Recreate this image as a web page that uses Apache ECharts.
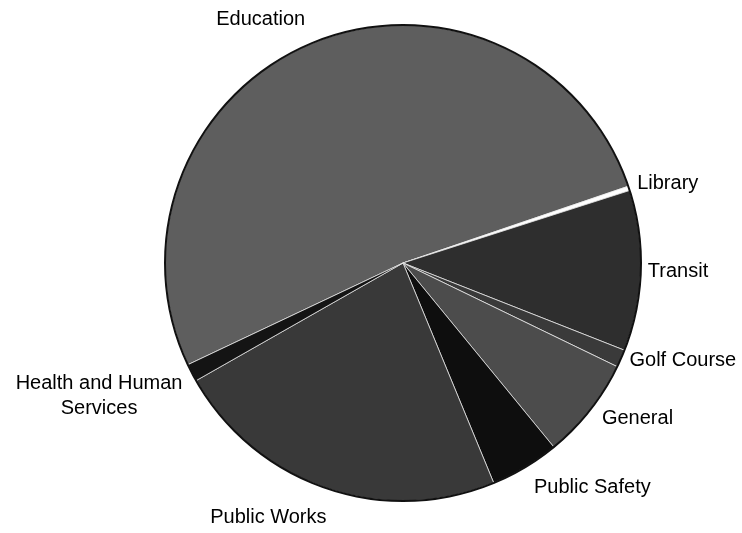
<!DOCTYPE html>
<html>
<head>
<meta charset="utf-8">
<script src="https://cdn.jsdelivr.net/npm/echarts@6/dist/echarts.min.js"></script>
<style>
  html, body { margin: 0; padding: 0; background: #fff; }
  #chart { width: 742px; height: 533px; }
</style>
</head>
<body>
<div id="chart"></div>
<script>
// Budget share by department (percent of total)
const categories = ['Education', 'Library', 'Transit', 'Golf Course', 'General',
                    'Public Safety', 'Public Works', 'Health and Human Services'];
const shares = [51.8, 0.3, 10.9, 1.2, 6.9, 4.7, 23.0, 1.2];

// Fill tone per department
const fills = ['#5e5e5e', '#ffffff', '#2e2e2e', '#3a3a3a', '#4c4c4c',
               '#0e0e0e', '#393939', '#141414'];

// Label placement: radial offset and horizontal nudge per slice
const labelLen = [25, 16, 22, 6, 14, 23, 31, 50];
const labelLen2 = [-6, -12, -20, -2, -4, -8, -16, -40];

const data = categories.map((name, i) => ({
  name: name,
  value: shares[i],
  itemStyle: { color: fills[i] },
  labelLine: { length: labelLen[i], length2: labelLen2[i] }
}));

const chart = echarts.init(document.getElementById('chart'), null, { renderer: 'canvas' });

const labelFont = '"Liberation Sans", Arial, sans-serif';

chart.setOption({
  backgroundColor: '#ffffff',
  animation: false,
  series: [
    {
      type: 'pie',
      center: [403, 263],
      radius: 238,
      startAngle: 205.3,
      clockwise: true,
      avoidLabelOverlap: false,
      data: data,
      itemStyle: { borderColor: 'rgba(235,235,235,0.75)', borderWidth: 1 },
      label: {
        show: true,
        position: 'outside',
        bleedMargin: 0,
        distanceToLabelLine: 5,
        color: '#000',
        fontFamily: labelFont,
        fontSize: 20,
        lineHeight: 25,
        formatter: function (p) {
          if (p.name === 'Health and Human Services') {
            return '{c|Health and Human}\n{c|Services}';
          }
          return p.name;
        },
        rich: { c: { align: 'center', fontSize: 20, lineHeight: 25,
                     fontFamily: labelFont, color: '#000' } }
      },
      labelLine: { show: false },
      emphasis: { disabled: true }
    },
    {
      // dark rim around the pie
      type: 'pie',
      center: [403, 263],
      radius: [237, 239],
      silent: true,
      label: { show: false },
      labelLine: { show: false },
      data: [{ value: 1, itemStyle: { color: '#111' } }],
      emphasis: { disabled: true }
    }
  ]
});
</script>
</body>
</html>
